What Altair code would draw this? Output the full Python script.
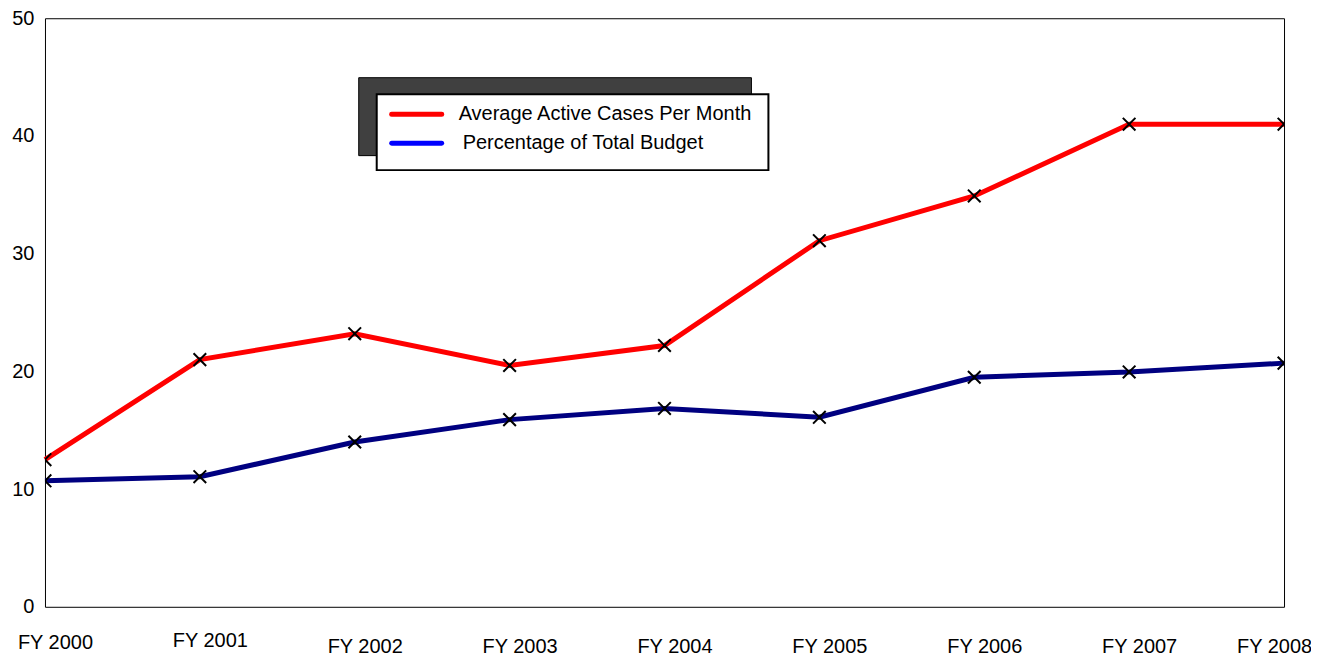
import altair as alt
import pandas as pd

years = ["FY 2000", "FY 2001", "FY 2002", "FY 2003", "FY 2004",
         "FY 2005", "FY 2006", "FY 2007", "FY 2008"]
avg_active_cases = [12.5, 21.0, 23.2, 20.5, 22.2, 31.1, 34.9, 41.0, 41.0]
pct_total_budget = [10.7, 11.05, 14.0, 15.9, 16.85, 16.1, 19.5, 19.95, 20.7]
series_names = ["Average Active Cases Per Month", "Percentage of Total Budget"]
line_colors = ["#ff0000", "#000080"]
legend_colors = ["#ff0000", "#0000ff"]

FONT = "Liberation Sans"

rows = []
for y, a in zip(years, avg_active_cases):
    rows.append({"year": y, "value": a, "series": series_names[0]})
for y, b in zip(years, pct_total_budget):
    rows.append({"year": y, "value": b, "series": series_names[1]})
df = pd.DataFrame(rows)

x_enc = alt.X(
    "year:O",
    sort=years,
    scale=alt.Scale(type="point", padding=0),
    axis=alt.Axis(
        title=None, labelAngle=0, ticks=False, domain=False, grid=False,
        labelFont=FONT, labelFontSize=20, labelColor="#000000",
        labelBaseline="top",
        labelOffset=alt.expr("datum.value == 'FY 2008' ? -10 : 10"),
        labelPadding=alt.expr("datum.value == 'FY 2000' ? 26 : (datum.value == 'FY 2001' ? 24 : 30)"),
    ),
)
y_enc = alt.Y(
    "value:Q",
    scale=alt.Scale(domain=[0, 50], nice=False),
    axis=alt.Axis(
        title=None, values=[0, 10, 20, 30, 40, 50], ticks=False, domain=False,
        grid=False, labelFont=FONT, labelFontSize=20, labelColor="#000000",
        labelPadding=11,
    ),
)
color_enc = alt.Color("series:N", scale=alt.Scale(domain=series_names, range=line_colors), legend=None)

lines = alt.Chart(df).mark_line(strokeWidth=5).encode(x=x_enc, y=y_enc, color=color_enc, detail="series:N")
points = alt.Chart(df).mark_point(
    shape="M-1,-1L1,1M-1,1L1,-1", filled=False, size=160, strokeWidth=2,
    color="#000000", opacity=1, clip=True,
).encode(x=x_enc, y=y_enc, detail="series:N")
data_layer = alt.layer(lines, points)

one = pd.DataFrame({"k": [0]})
shadow = alt.Chart(one).mark_rect(color="#404040", stroke="#000000", strokeWidth=1).encode(
    x=alt.value(314), x2=alt.value(707), y=alt.value(59.5), y2=alt.value(137.5))
box = alt.Chart(one).mark_rect(color="#ffffff", stroke="#000000", strokeWidth=2).encode(
    x=alt.value(332), x2=alt.value(724), y=alt.value(76), y2=alt.value(152))

leg_df = pd.DataFrame({"series": series_names, "color": legend_colors, "row": [0, 1]})
leg_y = alt.Y("row:Q", scale=alt.Scale(domain=[0, 1], range=[96, 125]), axis=None)
leg_lines = alt.Chart(leg_df).mark_rule(strokeWidth=5, strokeCap="round").encode(
    x=alt.value(347), x2=alt.value(397),
    y=leg_y,
    color=alt.Color("color:N", scale=None),
)
leg_text = alt.Chart(leg_df).mark_text(
    align="left", baseline="middle", font=FONT, fontSize=20, color="#000000",
).encode(
    x=alt.X("row:Q", scale=alt.Scale(domain=[0, 1], range=[414, 418]), axis=None),
    y=alt.Y("row:Q", scale=alt.Scale(domain=[0, 1], range=[96, 126]), axis=None),
    text="series:N",
)
legend = alt.layer(shadow, box, leg_lines, leg_text)

chart = alt.layer(data_layer, legend).resolve_scale(
    x="independent", y="independent", color="independent"
).properties(
    width=1240, height=589,
    autosize=alt.AutoSizeParams(type="none"),
    padding={"left": 37, "top": 10, "right": 27, "bottom": 50},
    background="#ffffff",
).configure_view(stroke="#000000", strokeWidth=1)

chart.save("out.html", embed_options={"renderer": "svg", "actions": False})
